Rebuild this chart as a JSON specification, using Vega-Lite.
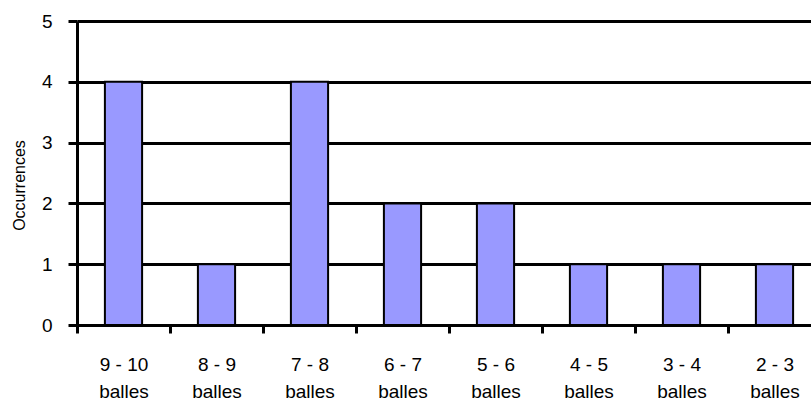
{
  "$schema": "https://vega.github.io/schema/vega-lite/v6.json",
  "width": 735,
  "height": 304,
  "autosize": {"type": "none"},
  "padding": {"left": 77, "top": 21, "right": 0, "bottom": 76},
  "background": "white",
  "config": {
    "view": {"stroke": null},
    "font": "Liberation Sans"
  },
  "data": {
    "values": [
      {"classe": "9 - 10|balles", "n": 4},
      {"classe": "8 - 9|balles", "n": 1},
      {"classe": "7 - 8|balles", "n": 4},
      {"classe": "6 - 7|balles", "n": 2},
      {"classe": "5 - 6|balles", "n": 2},
      {"classe": "4  - 5|balles", "n": 1},
      {"classe": "3 - 4|balles", "n": 1},
      {"classe": "2 - 3|balles", "n": 1}
    ]
  },
  "mark": {"type": "bar", "fill": "#9999FF", "stroke": "black", "strokeWidth": 2, "width": {"band": 0.4}},
  "encoding": {
    "x": {
      "field": "classe",
      "type": "nominal",
      "sort": null,
      "scale": {"range": [0, 744], "paddingInner": 0, "paddingOuter": 0},
      "axis": {
        "title": null,
        "labelAngle": 0,
        "labelExpr": "split(datum.label, '|')",
        "labelFont": "Liberation Sans",
        "labelFontSize": 19,
        "labelColor": "black",
        "labelLineHeight": 27,
        "labelPadding": 22,
        "tickBand": "extent",
        "tickColor": "black",
        "tickWidth": 3,
        "tickSize": 8,
        "domainColor": "black",
        "domainWidth": 3
      }
    },
    "y": {
      "field": "n",
      "type": "quantitative",
      "scale": {"domain": [0, 5]},
      "axis": {
        "title": "Occurrences",
        "titleFont": "Liberation Sans",
        "titleFontSize": 16,
        "titleFontWeight": "normal",
        "titleColor": "black",
        "titlePadding": 14,
        "titleY": 164,
        "values": [0, 1, 2, 3, 4, 5],
        "labelFont": "Liberation Sans",
        "labelFontSize": 19,
        "labelColor": "black",
        "labelPadding": 16,
        "tickColor": "black",
        "tickWidth": 3,
        "tickSize": 9,
        "domainColor": "black",
        "domainWidth": 3,
        "grid": true,
        "gridColor": "black",
        "gridWidth": 3
      }
    }
  }
}
